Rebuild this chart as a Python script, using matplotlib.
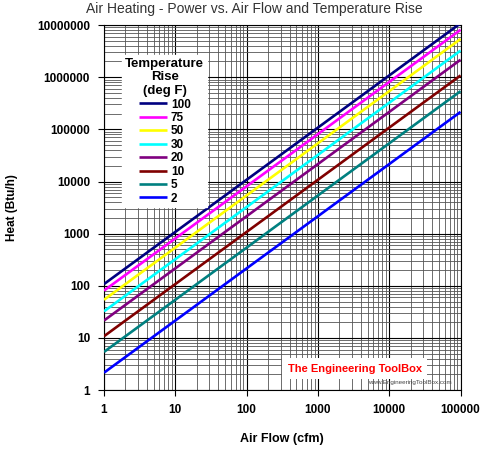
import matplotlib.pyplot as plt
from matplotlib.ticker import LogLocator, NullFormatter, FixedLocator

# air flow end points (cfm) and heat (Btu/h)
flow = [1, 100000]
rise_labels = ['100', '75', '50', '30', '20', '10', '5', '2']
heat_start = [108, 81, 54, 32.4, 21.6, 10.8, 5.4, 2.16]
heat_end = [1.08e7, 8.1e6, 5.4e6, 3.24e6, 2.16e6, 1.08e6, 5.4e5, 2.16e5]
colors = ['#000080', '#FF00FF', '#FFFF00', '#00FFFF',
          '#800080', '#800000', '#008080', '#0000FF']

x_ticks = [1, 10, 100, 1000, 10000, 100000]
x_tick_labels = ['1', '10', '100', '1000', '10000', '100000']
y_ticks = [1, 10, 100, 1000, 10000, 100000, 1000000, 10000000]
y_tick_labels = ['1', '10', '100', '1000', '10000', '100000', '1000000', '10000000']

plt.rcParams['font.family'] = ['Liberation Sans', 'DejaVu Sans']

fig = plt.figure(figsize=(4.99, 4.59), dpi=100)
ax = fig.add_axes([0.2084, 0.150, 0.7146, 0.7955])
ax.set_xscale('log')
ax.set_yscale('log')
ax.set_xlim(1, 100000)
ax.set_ylim(1, 10000000)

for lab, y0, y1, c in zip(rise_labels, heat_start, heat_end, colors):
    ax.plot(flow, [y0, y1], color=c, lw=1.9, label=lab, zorder=3,
            solid_capstyle='butt')

ax.xaxis.set_major_locator(FixedLocator(x_ticks))
ax.yaxis.set_major_locator(FixedLocator(y_ticks))
ax.set_xticklabels(x_tick_labels)
ax.set_yticklabels(y_tick_labels)
ax.xaxis.set_minor_locator(LogLocator(base=10, subs=range(2, 10), numticks=20))
ax.yaxis.set_minor_locator(LogLocator(base=10, subs=range(2, 10), numticks=20))
ax.xaxis.set_minor_formatter(NullFormatter())
ax.yaxis.set_minor_formatter(NullFormatter())

ax.grid(True, which='major', color='black', lw=0.8, zorder=1)
ax.grid(True, which='minor', color='#555555', lw=0.6, zorder=1)
ax.tick_params(which='major', direction='out', length=4, width=0.8,
               labelsize=8.5, pad=6)
ax.tick_params(which='minor', length=0)
for t in ax.get_xticklabels() + ax.get_yticklabels():
    t.set_fontweight('bold')
for s in ax.spines.values():
    s.set_color('black')
    s.set_linewidth(0.8)

ax.set_xlabel('Air Flow (cfm)', fontsize=9, fontweight='bold', labelpad=12)
ax.set_ylabel('Heat (Btu/h)', fontsize=8.5, fontweight='bold', labelpad=14)
fig.suptitle('Air Heating - Power vs. Air Flow and Temperature Rise',
             x=0.51, y=0.995, fontsize=10, color='#333333')

leg = ax.legend(loc='upper left', bbox_to_anchor=(0.035, 0.935),
                title='Temperature\nRise\n(deg F)',
                title_fontproperties={'weight': 'bold', 'size': 9.5},
                prop={'weight': 'bold', 'size': 8.5},
                frameon=True, fancybox=False, facecolor='white',
                edgecolor='white', framealpha=1, handlelength=2.4,
                handletextpad=0.3, labelspacing=0.12, borderpad=0.25)
leg.get_title().set_multialignment('center')
leg.set_zorder(5)

# watermark
ax.text(0.515, 0.045, 'The Engineering ToolBox', transform=ax.transAxes,
        fontsize=8, fontweight='bold', color='#FF0000', zorder=6,
        ha='left', va='bottom',
        bbox=dict(facecolor='white', edgecolor='none', pad=4))
ax.text(0.975, 0.015, 'www.EngineeringToolBox.com', transform=ax.transAxes,
        fontsize=4.5, color='#444444', ha='right', va='bottom', zorder=7)

fig.savefig('out.png', dpi=100)
